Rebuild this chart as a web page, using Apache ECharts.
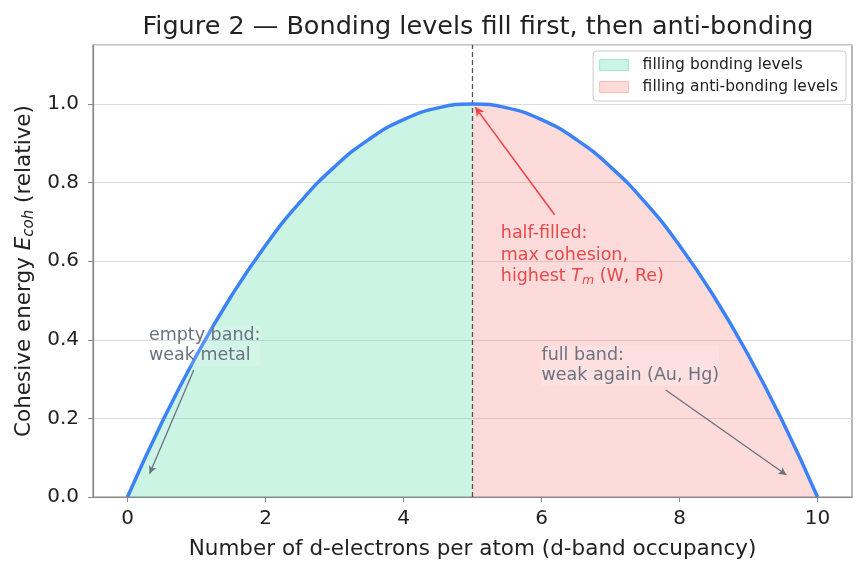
<!DOCTYPE html>
<html>
<head>
<meta charset="utf-8">
<script src="https://cdn.jsdelivr.net/npm/echarts@6/dist/echarts.min.js"></script>
<style>
html,body{margin:0;padding:0;background:#fff;}
#main{width:866px;height:573px;}
</style>
</head>
<body>
<div id="main"></div>
<script>
// d-band occupancy and cohesive energy
var occupancy = [0, 0.5, 1, 1.5, 2, 2.5, 3, 3.5, 4, 4.5, 5, 5.5, 6, 6.5, 7, 7.5, 8, 8.5, 9, 9.5, 10];
var cohesion  = [0, 0.19, 0.36, 0.51, 0.64, 0.75, 0.84, 0.91, 0.96, 0.99, 1.0, 0.99, 0.96, 0.91, 0.84, 0.75, 0.64, 0.51, 0.36, 0.19, 0];
var xTicks = [0, 2, 4, 6, 8, 10];
var yTicks = [0, 0.2, 0.4, 0.6, 0.8, 1.0];
var halfFilled = 5;

var font = 'DejaVu Sans';
var fullData = [], bondData = [], antiData = [];
for (var i = 0; i < occupancy.length; i++) {
    var pt = [occupancy[i], cohesion[i]];
    fullData.push(pt);
    if (occupancy[i] <= halfFilled) bondData.push(pt);
    if (occupancy[i] >= halfFilled) antiData.push(pt);
}

var chart = echarts.init(document.getElementById('main'));
var option = {
    backgroundColor: '#fff',
    animation: false,
    title: {
        text: 'Figure 2 — Bonding levels fill first, then anti-bonding',
        left: 473, top: 9, textAlign: 'center',
        textStyle: {fontFamily: font, fontSize: 25.5, fontWeight: 'normal', color: '#222'}
    },
    legend: {
        right: 20, top: 51,
        orient: 'vertical',
        icon: 'rect', itemWidth: 29, itemHeight: 11, itemGap: 6,
        padding: [6, 8, 6, 6],
        borderColor: '#ccc', borderWidth: 1, borderRadius: 3,
        backgroundColor: 'rgba(255,255,255,0.85)',
        textStyle: {fontFamily: font, fontSize: 15.5, color: '#222', padding: [0, 0, 0, 9]},
        data: [
            {name: 'filling bonding levels', itemStyle: {color: 'rgba(52,211,153,0.25)', borderColor: 'rgba(52,211,153,0.4)', borderWidth: 1}},
            {name: 'filling anti-bonding levels', itemStyle: {color: 'rgba(248,113,113,0.25)', borderColor: 'rgba(248,113,113,0.4)', borderWidth: 1}}
        ]
    },
    grid: {left: 93, right: 14, top: 45, bottom: 76, show: true, borderColor: '#888', borderWidth: 1.2, backgroundColor: 'transparent'},
    xAxis: {
        type: 'value', min: -0.5, max: 10.5,
        name: 'Number of d-electrons per atom (d-band occupancy)',
        nameLocation: 'middle', nameGap: 41,
        nameTextStyle: {fontFamily: font, fontSize: 21.5, color: '#222'},
        axisLine: {show: true, onZero: false, lineStyle: {color: '#888', width: 1.2}},
        axisTick: {show: true, length: 5, customValues: xTicks, lineStyle: {color: '#888'}},
        axisLabel: {customValues: xTicks, fontFamily: font, fontSize: 20, color: '#222', margin: 12},
        splitLine: {show: false}
    },
    yAxis: {
        type: 'value', min: 0, max: 1.15, interval: 0.2,
        name: '{n|Cohesive energy }{i|E}{s|coh}{n| (relative)}',
        nameLocation: 'middle', nameGap: 54,
        nameTextStyle: {
            rich: {
                n: {fontFamily: font, fontSize: 21.5, color: '#222'},
                i: {fontFamily: font, fontSize: 21.5, fontStyle: 'italic', color: '#222'},
                s: {fontFamily: font, fontSize: 15, fontStyle: 'italic', color: '#222', padding: [9, 0, 0, 0]}
            }
        },
        axisLine: {show: true, onZero: false, lineStyle: {color: '#888', width: 1.2}},
        axisTick: {show: true, length: 5, lineStyle: {color: '#888'}},
        axisLabel: {fontFamily: font, fontSize: 20, color: '#222', margin: 14, showMaxLabel: false,
            formatter: function (v) { return v.toFixed(1); }},
        splitLine: {show: true, lineStyle: {color: '#ddd', width: 1}}
    },
    series: [
        {
            name: 'filling bonding levels', type: 'line', data: bondData,
            smooth: true, showSymbol: false,
            itemStyle: {color: 'rgba(52,211,153,0.25)'},
            lineStyle: {width: 0},
            areaStyle: {color: 'rgba(52,211,153,0.25)', opacity: 1},
            z: 1
        },
        {
            name: 'filling anti-bonding levels', type: 'line', data: antiData,
            smooth: true, showSymbol: false,
            itemStyle: {color: 'rgba(248,113,113,0.25)'},
            lineStyle: {width: 0},
            areaStyle: {color: 'rgba(248,113,113,0.25)', opacity: 1},
            z: 1
        },
        {
            name: 'curve', type: 'line', data: fullData,
            smooth: true, showSymbol: false,
            lineStyle: {color: '#3b82f6', width: 3.5},
            itemStyle: {color: '#3b82f6'},
            z: 5,
            markLine: {
                silent: true, animation: false,
                label: {show: false},
                data: [
                    [{coord: [halfFilled, 0], symbol: 'none', lineStyle: {color: '#555', width: 1.3, type: [5, 3]}},
                     {coord: [halfFilled, 1.15], symbol: 'none'}],
                    [{coord: [6.19, 0.718], symbol: 'none', lineStyle: {color: '#ef4444', width: 1.6, type: 'solid'}},
                     {coord: [5.04, 0.992], symbol: 'arrow', symbolSize: [7, 9]}],
                    [{coord: [0.96, 0.323], symbol: 'none', lineStyle: {color: '#6b7280', width: 1.3, type: 'solid'}},
                     {coord: [0.32, 0.059], symbol: 'arrow', symbolSize: [6, 8]}],
                    [{coord: [7.80, 0.272], symbol: 'none', lineStyle: {color: '#6b7280', width: 1.3, type: 'solid'}},
                     {coord: [9.55, 0.056], symbol: 'arrow', symbolSize: [6, 8]}]
                ]
            }
        }
    ]
};
chart.setOption(option);

// annotation texts placed in data coordinates
function at(x, y) { return chart.convertToPixel({gridIndex: 0}, [x, y]); }
var pHalf = at(5.41, 0.697);
var pEmpty = at(0.31, 0.436);
var pFull = at(6.0, 0.385);
chart.setOption({
    graphic: [
        {type: 'text', x: pHalf[0], y: pHalf[1], z: 10,
         style: {
             text: '{r|half-filled:}\n{r|max cohesion,}\n{r|highest }{ri|T}{rs|m}{r| (W, Re)}',
             rich: {
                 r: {fontFamily: font, fontSize: 17.5, lineHeight: 21.5, fill: '#e8494b'},
                 ri: {fontFamily: font, fontSize: 17.5, lineHeight: 21.5, fontStyle: 'italic', fill: '#e8494b'},
                 rs: {fontFamily: font, fontSize: 12.5, lineHeight: 21.5, fontStyle: 'italic', fill: '#e8494b', padding: [8, 0, 0, 0]}
             }
         }},
        {type: 'text', x: pEmpty[0], y: pEmpty[1], z: 10,
         style: {text: 'empty band:\nweak metal', fontFamily: font, fontSize: 17.5, lineHeight: 20, fill: '#6b7280',
                 backgroundColor: 'rgba(255,255,255,0.15)'}},
        {type: 'text', x: pFull[0], y: pFull[1], z: 10,
         style: {text: 'full band:\nweak again (Au, Hg)', fontFamily: font, fontSize: 17.5, lineHeight: 20, fill: '#6b7280',
                 backgroundColor: 'rgba(255,255,255,0.15)'}}
    ]
});
</script>
</body>
</html>
